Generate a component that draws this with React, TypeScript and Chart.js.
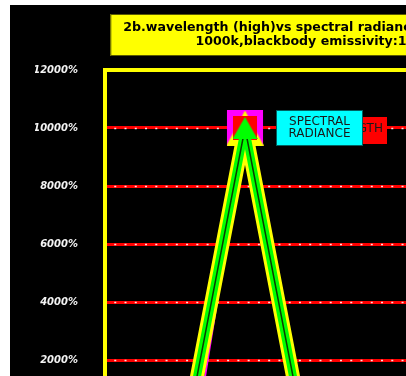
import React, { useEffect, useRef } from "react";
import { Chart, registerables } from "chart.js";
Chart.register(...registerables);

// ---- data ----
const categories = ["0.5", "1.0", "1.5", "2.0", "2.5", "3.0", "3.5"];
const greenMarkerSeries = [0, 0, 10000, 0, 0, 0, 0];
const centerSeries = [0, 0, 10000, 0, 0, 0, 0];
const greenSeries = [0, 0, 10000, 0, 0, 0, 0];
const redSeries = [0, 0, 10000, 0, 0, 0, 0];
const yellowSeries = [0, 0, 10000, 0, 0, 0, 0];
const magentaSeries = [0, -2000, 10000, 0, 0, 0, 0];
const yMin = 0;
const yMax = 12000;
const yStep = 2000;
const titleLines = [
  "2b.wavelength (high)vs spectral radiance (low) at",
  "1000k,blackbody emissivity:1",
];
const labelBack = "WAVELENGTH";
const labelFront = ["SPECTRAL", "RADIANCE"];

const FONT = "'DejaVu Sans', sans-serif";

function triangleImage(w: number, h: number, color: string) {
  const c = document.createElement("canvas");
  c.width = w;
  c.height = h;
  const g = c.getContext("2d")!;
  g.fillStyle = color;
  g.beginPath();
  g.moveTo(w / 2, 0);
  g.lineTo(w, h);
  g.lineTo(0, h);
  g.closePath();
  g.fill();
  return c;
}

const backgroundPlugin = {
  id: "titleBox",
  beforeDraw(chart: any) {
    const ctx = chart.ctx;
    ctx.save();
    ctx.fillStyle = "#000";
    ctx.fillRect(0, 0, chart.width, chart.height);
    const tb = chart.titleBlock;
    if (tb) {
      const opts = chart.options.plugins.title;
      ctx.font = `bold ${opts.font.size}px ${FONT}`;
      let maxW = 0;
      titleLines.forEach((l) => (maxW = Math.max(maxW, ctx.measureText(l).width)));
      const cx = (tb.left + tb.right) / 2;
      const w = maxW + 26;
      const top = tb.top + opts.padding.top - 7;
      const h = titleLines.length * 14 + 14;
      ctx.fillStyle = "#ffff00";
      ctx.fillRect(cx - w / 2, top, w, h);
      ctx.strokeStyle = "#5a5a00";
      ctx.lineWidth = 1;
      ctx.strokeRect(cx - w / 2 + 0.5, top + 0.5, w - 1, h - 1);
    }
    ctx.restore();
  },
};

const gridPlugin = {
  id: "gridDots",
  beforeDatasetsDraw(chart: any) {
    const ctx = chart.ctx;
    const area = chart.chartArea;
    const y = chart.scales.y;
    ctx.save();
    ctx.strokeStyle = "rgba(255,235,235,0.95)";
    ctx.lineWidth = 1.6;
    ctx.setLineDash([2, 8.26]);
    ctx.lineDashOffset = 3;
    for (let v = yMin; v <= yMax; v += yStep) {
      const py = Math.round(y.getPixelForValue(v)) + 0.5;
      ctx.beginPath();
      ctx.moveTo(area.left + 2, py);
      ctx.lineTo(area.right, py);
      ctx.stroke();
    }
    ctx.setLineDash([]);
    ctx.strokeStyle = "#ffff00";
    ctx.lineWidth = 4;
    ctx.strokeRect(area.left, area.top, area.right - area.left, area.bottom - area.top);
    ctx.restore();
  },
};

const labelPlugin = {
  id: "peakLabels",
  afterDatasetsDraw(chart: any) {
    const meta = chart.getDatasetMeta(0);
    let idx = 0;
    greenMarkerSeries.forEach((v, i) => {
      if (v > greenMarkerSeries[idx]) idx = i;
    });
    const pt = meta.data[idx];
    if (!pt) return;
    const px = pt.x;
    const py = pt.y;
    const ctx = chart.ctx;
    ctx.save();
    ctx.font = `12px ${FONT}`;
    ctx.textBaseline = "middle";
    ctx.textAlign = "center";
    // back label (red)
    ctx.fillStyle = "#ff0000";
    ctx.fillRect(px + 49, py - 11, 93, 27);
    ctx.fillStyle = "#1a1a1a";
    ctx.fillText(labelBack, px + 49 + 93 / 2 + 1, py + 1);
    // front label (cyan)
    ctx.fillStyle = "#00ffff";
    ctx.fillRect(px + 31, py - 18, 87, 36);
    ctx.strokeStyle = "#006060";
    ctx.lineWidth = 1;
    ctx.strokeRect(px + 31.5, py - 17.5, 86, 35);
    ctx.fillStyle = "#1a1a1a";
    ctx.fillText(labelFront[0], px + 31 + 87 / 2, py - 6);
    ctx.fillText(labelFront[1], px + 31 + 87 / 2, py + 6);
    ctx.restore();
  },
};

export default function App() {
  const ref = useRef<HTMLCanvasElement>(null);
  useEffect(() => {
    if (!ref.current) return;
    const greenTri = triangleImage(25, 22, "#00ff00");
    const yellowTri = triangleImage(37, 35, "#ffff00");
    const chart = new Chart(ref.current, {
      type: "line",
      data: {
        labels: categories,
        datasets: [
          {
            label: "SPECTRAL RADIANCE",
            data: greenMarkerSeries,
            showLine: false,
            borderColor: "#00ff00",
            pointStyle: greenTri as any,
            pointRadius: 12,
          },
          {
            label: "center",
            data: centerSeries,
            borderColor: "#0b3d00",
            borderWidth: 1.5,
            borderJoinStyle: "bevel",
            pointRadius: 0,
            tension: 0,
          },
          {
            label: "green",
            data: greenSeries,
            borderColor: "#00ff00",
            borderWidth: 8,
            borderJoinStyle: "bevel",
            pointRadius: 0,
            tension: 0,
          },
          {
            label: "WAVELENGTH",
            data: redSeries,
            showLine: false,
            borderColor: "#ff0000",
            pointStyle: "rect",
            pointRadius: 17,
            pointBackgroundColor: "#ff0000",
            pointBorderColor: "#ff0000",
            pointBorderWidth: 0,
          },
          {
            label: "yellow",
            data: yellowSeries,
            borderColor: "#ffff00",
            borderWidth: 14,
            borderJoinStyle: "bevel",
            pointStyle: yellowTri as any,
            pointRadius: 18,
            tension: 0,
          },
          {
            label: "magenta",
            data: magentaSeries,
            borderColor: "#ff00ff",
            borderWidth: 2,
            borderJoinStyle: "bevel",
            pointStyle: "rect",
            pointRadius: 25.5,
            pointBackgroundColor: "#ff00ff",
            pointBorderColor: "#ff00ff",
            pointBorderWidth: 0,
            tension: 0,
          },
        ],
      },
      options: {
        responsive: false,
        animation: false,
        layout: { padding: { left: 25, right: 33, top: 0, bottom: 10 } },
        plugins: {
          legend: { display: false },
          tooltip: { enabled: false },
          title: {
            display: true,
            fullSize: false,
            text: titleLines,
            color: "#000",
            font: { family: FONT, size: 12.6, weight: "bold", lineHeight: "14px" },
            padding: { top: 16, bottom: 21 },
          },
        },
        scales: {
          x: {
            offset: true,
            grid: { display: false },
            border: { display: false },
            ticks: { color: "#fff", font: { family: FONT, size: 10 } },
            afterFit: (s: any) => {
              s.height = 30;
            },
          },
          y: {
            min: yMin,
            max: yMax,
            grid: { color: "#ff0000", lineWidth: 3, drawTicks: false },
            border: { display: false },
            ticks: {
              stepSize: yStep,
              padding: 27,
              color: "#f4f4f4",
              font: { family: FONT, size: 10, weight: "bold", style: "italic" },
              callback: (v: any) => `${v}%`,
            },
            afterFit: (s: any) => {
              s.width = 70;
            },
          },
        },
      },
      plugins: [backgroundPlugin, gridPlugin, labelPlugin],
    });
    return () => chart.destroy();
  }, []);
  return (
    <div
      style={{
        position: "fixed",
        left: 10,
        top: 5,
        right: 0,
        bottom: 0,
        overflow: "hidden",
        background: "#000",
      }}
    >
      <canvas ref={ref} width={520} height={453} style={{ display: "block" }} />
    </div>
  );
}
